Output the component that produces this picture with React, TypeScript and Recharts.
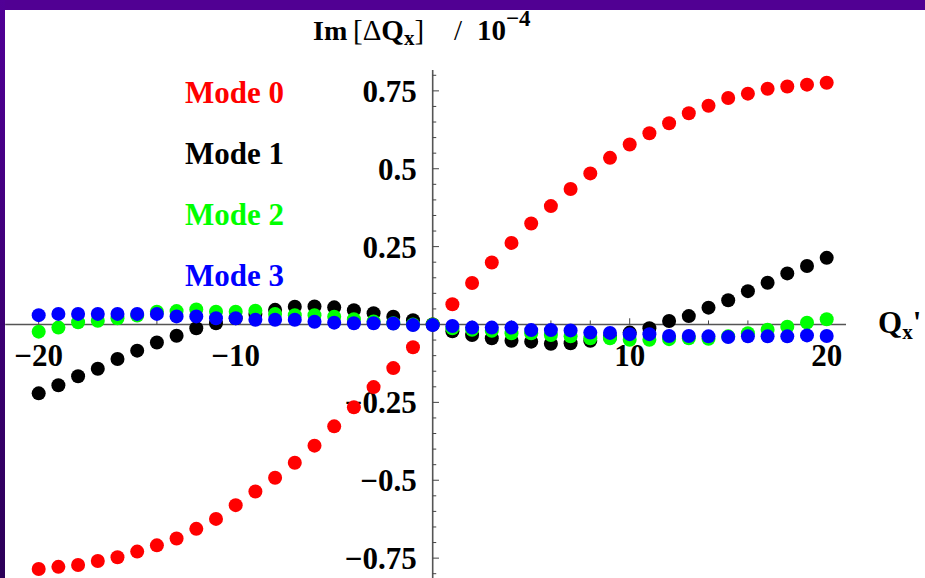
import React from 'react';
import { ScatterChart, Scatter, XAxis, YAxis, ReferenceLine, ReferenceDot } from 'recharts';

const xs = [-20,-19,-18,-17,-16,-15,-14,-13,-12,-11,-10,-9,-8,-7,-6,-5,-4,-3,-2,-1,0,1,2,3,4,5,6,7,8,9,10,11,12,13,14,15,16,17,18,19,20];

const mode0 = [-0.785,-0.778,-0.772,-0.759,-0.747,-0.729,-0.709,-0.687,-0.656,-0.624,-0.580,-0.536,-0.492,-0.444,-0.389,-0.327,-0.266,-0.201,-0.140,-0.073,0.0,0.065,0.133,0.199,0.262,0.324,0.380,0.435,0.485,0.535,0.578,0.614,0.646,0.678,0.702,0.727,0.741,0.757,0.764,0.770,0.776];
const mode1 = [-0.221,-0.195,-0.166,-0.142,-0.111,-0.084,-0.058,-0.036,-0.012,0.004,0.020,0.034,0.047,0.057,0.058,0.055,0.046,0.036,0.025,0.014,0.0,-0.022,-0.034,-0.044,-0.052,-0.055,-0.062,-0.060,-0.052,-0.041,-0.026,-0.012,0.011,0.027,0.054,0.078,0.107,0.134,0.164,0.188,0.214];
const mode2 = [-0.023,-0.010,0.007,0.012,0.020,0.029,0.041,0.043,0.048,0.041,0.041,0.044,0.034,0.030,0.030,0.025,0.017,0.010,0.004,0.0,0.0,-0.012,-0.017,-0.020,-0.028,-0.028,-0.034,-0.038,-0.044,-0.044,-0.049,-0.049,-0.047,-0.044,-0.046,-0.038,-0.028,-0.017,-0.007,0.006,0.017];
const mode3 = [0.030,0.034,0.034,0.034,0.034,0.034,0.034,0.026,0.026,0.020,0.020,0.015,0.015,0.015,0.009,0.006,0.004,0.004,0.003,-0.002,-0.002,-0.005,-0.010,-0.010,-0.010,-0.018,-0.018,-0.019,-0.026,-0.027,-0.031,-0.031,-0.037,-0.037,-0.038,-0.040,-0.038,-0.038,-0.038,-0.035,-0.037];

const modeNames = ['Mode 0', 'Mode 1', 'Mode 2', 'Mode 3'];
const modeColors = ['#ff0000', '#000000', '#00ff00', '#0000ff'];
const modeValues = [mode0, mode1, mode2, mode3];

const xMinorTicks = [-20,-18,-16,-14,-12,-10,-8,-6,-4,-2,2,4,6,8,10,12,14,16,18,20];
const xMajorTicks = [-20,-10,10,20];
const xTickLabels = ['\u221220', '\u221210', '10', '20'];

const yMinorTicks = [-0.8,-0.75,-0.7,-0.65,-0.6,-0.55,-0.5,-0.45,-0.4,-0.35,-0.3,-0.25,-0.2,-0.15,-0.1,-0.05,0.05,0.1,0.15,0.2,0.25,0.3,0.35,0.4,0.45,0.5,0.55,0.6,0.65,0.7,0.75,0.8];
const yMajorTicks = [-0.75,-0.5,-0.25,0.25,0.5,0.75];
const yTickLabels = ['\u22120.75', '\u22120.5', '\u22120.25', '0.25', '0.5', '0.75'];

const FONT = "'Liberation Serif', 'Times New Roman', serif";

const X_DOMAIN: [number, number] = [-21.964, 24.99];
const Y_DOMAIN: [number, number] = [-0.8138, 1.0417];

const series = modeValues.map((vals) => xs.map((x, i) => ({ x, y: vals[i] })));

const dot = (color: string) => (p: any) => (
  <circle cx={p.cx} cy={p.cy} r={7} fill={color} />
);

export default function App() {
  return (
    <div style={{ position: 'absolute', left: 0, top: 0, width: 925, height: 578, background: '#510093', overflow: 'hidden' }}>
      <div style={{ position: 'absolute', left: 0, top: 0, width: 5, height: 578, background: 'linear-gradient(#510096, #2c0058)' }} />
      <div style={{ position: 'absolute', left: 5, top: 10, width: 920, height: 568, background: '#ffffff' }} />
      <div style={{ position: 'absolute', left: 0, top: 0 }}>
        <ScatterChart width={925} height={578} margin={{ top: 0, right: 0, bottom: 0, left: 0 }}>
          <XAxis type="number" dataKey="x" domain={X_DOMAIN} hide allowDataOverflow />
          <YAxis type="number" dataKey="y" domain={Y_DOMAIN} hide allowDataOverflow />

          <ReferenceLine segment={[{ x: -21.7, y: 0 }, { x: 20.98, y: 0 }]} stroke="#555" strokeWidth={1.3} ifOverflow="visible" />
          <ReferenceLine segment={[{ x: 0, y: 0.817 }, { x: 0, y: -0.8138 }]} stroke="#555" strokeWidth={1.6} ifOverflow="visible" />

          {xMinorTicks.map((t) => (
            <ReferenceLine key={'xm' + t} segment={[{ x: t, y: 0 }, { x: t, y: xMajorTicks.includes(t) ? 0.02 : 0.013 }]} stroke="#444" strokeWidth={1} ifOverflow="visible" />
          ))}
          {yMinorTicks.map((t) => (
            <ReferenceLine key={'ym' + t} segment={[{ x: 0, y: t }, { x: yMajorTicks.includes(t) ? 0.32 : 0.18, y: t }]} stroke="#444" strokeWidth={1} ifOverflow="visible" />
          ))}

          {xMajorTicks.map((t, i) => (
            <ReferenceDot key={'xl' + t} x={t} y={0} r={0} ifOverflow="visible"
              shape={(p: any) => (
                <text x={p.cx} y={p.cy + 42} textAnchor="middle" fontFamily={FONT} fontWeight="bold" fontSize={31} fill="#000">{xTickLabels[i]}</text>
              )} />
          ))}
          {yMajorTicks.map((t, i) => (
            <ReferenceDot key={'yl' + t} x={0} y={t} r={0} ifOverflow="visible"
              shape={(p: any) => (
                <text x={p.cx - 16} y={p.cy + 11} textAnchor="end" fontFamily={FONT} fontWeight="bold" fontSize={31} fill="#000">{yTickLabels[i]}</text>
              )} />
          ))}

          {series.map((d, i) => (
            <Scatter key={modeNames[i]} name={modeNames[i]} data={d} fill={modeColors[i]} shape={dot(modeColors[i])} isAnimationActive={false} />
          ))}

          {modeNames.map((n, i) => (
            <text key={'lg' + n} x={185} y={103 + i * 61} fontFamily={FONT} fontWeight="bold" fontSize={31} fill={modeColors[i]}>{n}</text>
          ))}

          <text x={313} y={40} fontFamily={FONT} fontSize={29} fill="#000">
            <tspan fontWeight="bold" fontSize={28}>Im</tspan>
            <tspan x={353}>[</tspan>
            <tspan>Δ</tspan>
            <tspan fontWeight="bold">Q</tspan>
            <tspan fontWeight="bold" fontSize={21} dy={5}>x</tspan>
            <tspan dy={-5}>]</tspan>
            <tspan x={454}>/</tspan>
            <tspan x={477} fontWeight="bold">10</tspan>
            <tspan fontWeight="bold" fontSize={23} dy={-14}>{'\u22124'}</tspan>
          </text>

          <text x={878} y={333} fontFamily={FONT} fontWeight="bold" fontSize={31} fill="#000">
            <tspan>Q</tspan>
            <tspan fontSize={21} dy={6}>x</tspan>
            <tspan dy={-6}>'</tspan>
          </text>
        </ScatterChart>
      </div>
    </div>
  );
}
